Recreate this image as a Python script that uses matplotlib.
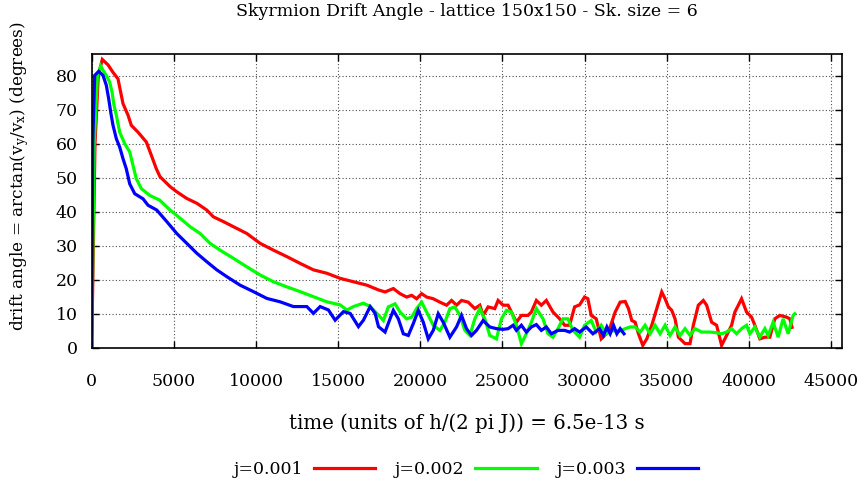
import matplotlib
matplotlib.use("Agg")
import matplotlib.pyplot as plt
from matplotlib.lines import Line2D

plt.rcParams['font.family'] = ['DejaVu Serif']
plt.rcParams['mathtext.fontset'] = 'custom'
plt.rcParams['mathtext.rm'] = 'DejaVu Serif'

title = "Skyrmion Drift Angle - lattice 150x150 - Sk. size = 6"
xlabel = "time (units of h/(2 pi J)) = 6.5e-13 s"
ylabel = r"drift angle = arctan(v$\mathregular{_y}$/v$\mathregular{_x}$) (degrees)"
labels = ["j=0.001", "j=0.002", "j=0.003"]
colors = ["#ff0000", "#00ff00", "#0000ff"]
xticks = list(range(0, 45001, 5000))
yticks = list(range(0, 81, 10))

t_red = [0, 200, 400, 645, 993, 1297, 1600, 1805, 1906, 2211, 2413, 2820, 3326, 3631, 3936, 4159,
         4768, 5170, 5786, 6394, 7003, 7406, 8014, 8623, 9440, 10250, 11060, 11876, 12685, 13495,
         14312, 15122, 15932, 16747, 17454, 17855, 18360, 18765, 19170, 19474, 19777, 20081, 20385,
         20789, 21194, 21599, 21903, 22206, 22510, 22915, 23320, 23623, 23826, 24129, 24534, 24737,
         25040, 25344, 25546, 25850, 26154, 26558, 26761, 27065, 27368, 27671, 28076, 28481, 28785,
         29088, 29392, 29696, 29999, 30201, 30404, 30708, 31012, 31315, 31559, 31863, 32166, 32470,
         32672, 32874, 33077, 33279, 33543, 33786, 34089, 34393, 34696, 34899, 35101, 35304, 35506,
         35709, 36113, 36417, 36619, 36923, 37227, 37429, 37733, 38036, 38340, 38644, 38948, 39150,
         39555, 39858, 40162, 40364, 40668, 40972, 41275, 41579, 41883, 42287, 42490, 42630]
v_red = [0, 60, 80, 84.8, 83.2, 81.0, 79.1, 74.2, 71.8, 68.4, 65.4, 63.4, 60.5, 56.6, 52.6, 50.3,
         47.4, 45.9, 43.9, 42.5, 40.5, 38.5, 37.1, 35.6, 33.6, 30.7, 28.7, 26.8, 24.8, 22.9,
         21.9, 20.4, 19.4, 18.4, 17.0, 16.4, 17.4, 15.9, 14.9, 15.4, 14.4, 15.9, 14.9,
         14.4, 13.4, 12.5, 13.9, 12.5, 13.9, 13.4, 11.5, 12.5, 9.5, 12.0, 11.5, 13.9,
         12.5, 12.5, 10.5, 7.5, 9.5, 9.5, 10.5, 13.9, 12.5, 13.9, 10.5, 8.5, 6.6,
         6.6, 12.0, 12.6, 14.9, 14.4, 9.5, 8.5, 2.6, 4.1, 6.1, 10.5, 13.4, 13.6,
         11.5, 8.0, 7.5, 4.1, 0.7, 2.6, 6.6, 11.5, 16.4, 14.4, 12.0, 11.0, 8.5,
         3.1, 1.2, 1.2, 6.6, 12.5, 13.9, 12.5, 7.5, 6.6, 0.7, 3.6, 6.6, 10.5,
         14.4, 10.5, 9.0, 6.6, 2.6, 3.1, 3.1, 8.5, 9.5, 9.0, 8.5, 6.0]

t_green = [0, 150, 350, 548, 688, 889, 1096, 1236, 1358, 1498, 1705, 2010, 2314, 2515, 2716, 3021,
           3532, 4141, 4768, 5377, 5986, 6595, 7204, 7813, 8623, 9440, 10250, 11060, 11876, 12685,
           13495, 14312, 15122, 15529, 15932, 16540, 16948, 17454, 17753, 18057, 18462, 18765, 19170,
           19474, 19777, 20081, 20385, 20789, 21194, 21498, 21801, 22105, 22408, 22712, 23016, 23320,
           23623, 23927, 24230, 24635, 24939, 25242, 25546, 25850, 26154, 26457, 26761, 27065, 27469,
           27773, 28076, 28380, 28684, 28987, 29291, 29696, 29999, 30404, 30708, 31012, 31315, 31700,
           32100, 32470, 32773, 33077, 33381, 33684, 33988, 34291, 34595, 34899, 35202, 35506, 35810,
           36113, 36417, 36720, 37125, 37631, 38036, 38340, 38644, 38948, 39251, 39555, 39858, 40061,
           40364, 40668, 40972, 41174, 41478, 41781, 42085, 42389, 42692, 42793]
v_green = [0, 60, 80, 82.9, 81.6, 80.1, 78.1, 75.2, 71.3, 68.4, 63.4, 60.0, 57.6, 53.6, 49.7, 46.8,
           44.8, 43.4, 40.5, 38.1, 35.6, 33.6, 30.7, 28.7, 26.3, 23.8, 21.4, 19.4, 17.9, 16.5,
           15.0, 13.5, 12.6, 11.1, 12.1, 13.1, 12.1, 9.6, 8.0, 12.0, 12.9, 10.5, 8.5,
           9.0, 11.5, 13.4, 10.5, 6.6, 5.1, 7.5, 11.5, 12.0, 9.5, 5.1, 3.6, 8.5,
           11.5, 8.5, 3.6, 2.6, 8.5, 11.0, 10.5, 6.6, 1.2, 4.1, 7.5, 11.5, 8.5,
           4.1, 3.1, 5.6, 8.5, 8.5, 5.1, 3.1, 6.6, 8.0, 4.6, 6.6, 4.1, 5.0,
           4.8, 5.6, 6.1, 6.1, 4.6, 6.6, 4.1, 6.6, 4.1, 6.6, 3.6, 6.1, 3.6,
           5.6, 3.6, 5.6, 4.6, 4.6, 4.4, 4.1, 4.6, 5.6, 4.1, 5.6, 6.6, 4.1,
           6.1, 3.1, 5.6, 3.6, 7.5, 3.1, 8.5, 4.1, 9.5, 10.0]

t_blue = [0, 60, 183, 426, 688, 889, 1035, 1157, 1297, 1498, 1705, 1906, 2107, 2314, 2619, 3124,
          3429, 3958, 4568, 5177, 5786, 6394, 7003, 7613, 8222, 9031, 9841, 10658, 11468, 12277,
          13094, 13495, 13904, 14409, 14817, 15322, 15731, 16236, 16540, 16948, 17252, 17454, 17855,
          18158, 18360, 18664, 18967, 19271, 19575, 19878, 20182, 20486, 20789, 21093, 21396, 21801,
          22206, 22510, 22813, 23117, 23421, 23826, 24230, 24635, 25040, 25344, 25647, 25850, 26154,
          26457, 26761, 27065, 27368, 27671, 27975, 28380, 28785, 29088, 29392, 29696, 30100, 30505,
          30910, 31154, 31357, 31559, 31761, 31964, 32166, 32400]
v_blue = [0, 60, 80.1, 81.3, 80.1, 77.2, 73.2, 69.3, 65.4, 61.5, 59.0, 55.6, 52.6, 48.2, 45.3, 43.8,
          41.9, 40.5, 37.1, 33.6, 30.7, 27.8, 25.3, 22.9, 20.9, 18.4, 16.5, 14.5, 13.5, 12.1,
          12.1, 10.1, 12.1, 11.1, 8.1, 10.6, 10.1, 6.2, 8.1, 12.1, 10.1, 6.2, 4.6,
          8.5, 11.0, 8.5, 4.1, 3.6, 7.1, 11.0, 7.5, 2.6, 5.1, 10.0, 7.5, 3.1,
          6.1, 9.5, 5.6, 3.6, 5.1, 8.0, 6.1, 5.6, 5.4, 5.6, 6.6, 5.1, 6.6,
          4.6, 6.1, 6.8, 5.1, 6.1, 4.1, 5.1, 5.1, 4.6, 5.6, 4.6, 6.1, 4.1,
          5.6, 3.6, 6.1, 4.1, 6.6, 4.1, 5.6, 4.1]

fig = plt.figure(figsize=(8.64, 4.95), dpi=100)
ax = fig.add_axes([91.7 / 864, 1 - 347.7 / 495, (841.7 - 91.7) / 864, (347.7 - 54) / 495])

series = [(t_red, v_red), (t_green, v_green), (t_blue, v_blue)]
handles = []
for (t, v), c, lab in zip(series, colors, labels):
    ax.plot(t, v, color=c, lw=2.3, solid_joinstyle='miter')
    handles.append(Line2D([], [], color=c, lw=2.3))

ax.set_xlim(0, 45650)
ax.set_ylim(0, 86.4)
ax.set_xticks(xticks)
ax.set_yticks(yticks)
ax.tick_params(direction='in', top=True, right=True, length=5, width=1, labelsize=12.5)
ax.tick_params(axis='x', pad=18)
ax.tick_params(axis='y', pad=10)
ax.grid(True, color='0.3', linestyle=(0, (1, 2)), lw=0.8)
for s in ax.spines.values():
    s.set_linewidth(1.2)

fig.text(466.7 / 864, 1 - 12 / 495, title, ha='center', va='center', fontsize=12.5)
fig.text(466.7 / 864, 1 - 423 / 495, xlabel, ha='center', va='center', fontsize=14.2)
fig.text(20 / 864, 1 - 176 / 495, ylabel, ha='center', va='center', rotation=90, fontsize=12.2)

fig.legend(handles, labels, loc='center', bbox_to_anchor=(466 / 864, 1 - 470 / 495), ncol=3,
           frameon=False, markerfirst=False, handlelength=3.55, handletextpad=0.6,
           columnspacing=1.15, fontsize=12.5)

fig.savefig("out.png", dpi=100)
